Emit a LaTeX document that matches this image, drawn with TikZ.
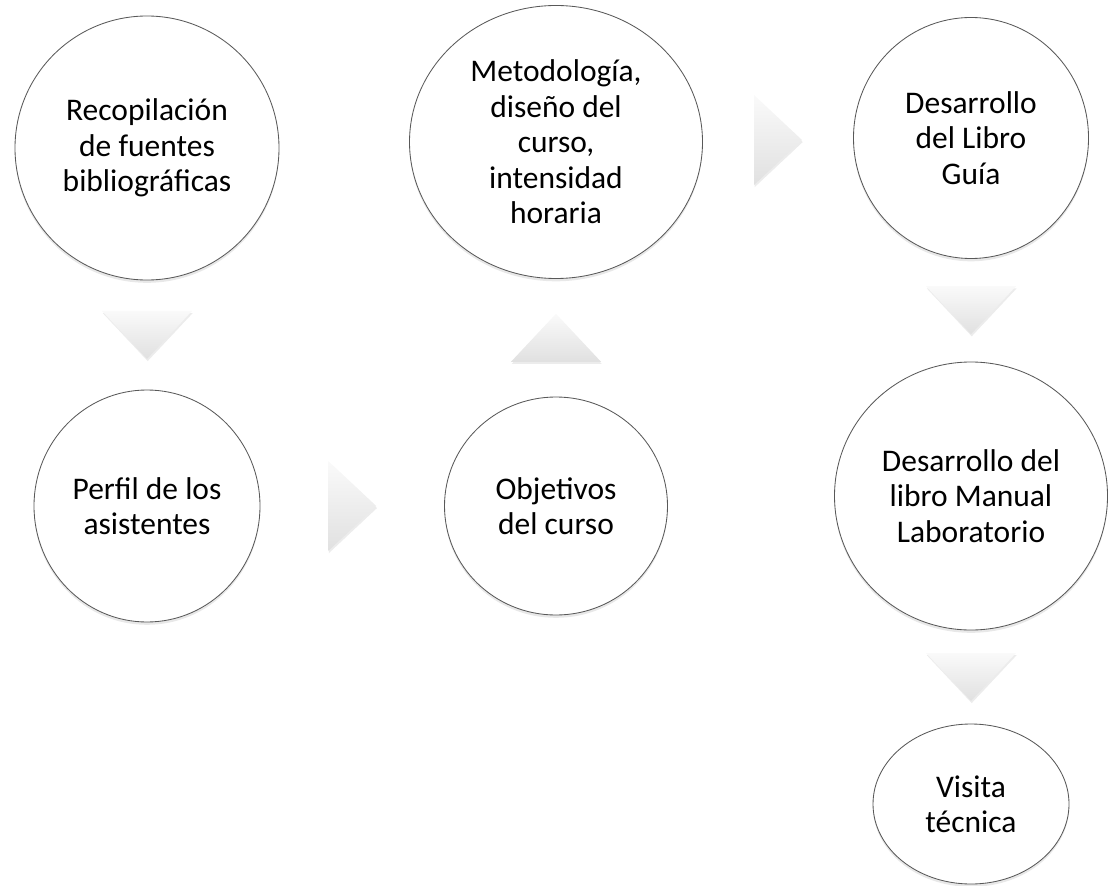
\documentclass[tikz,border=0pt]{standalone}
\usepackage{fontspec}
\setmainfont{Carlito}
\usepackage{tikz}
\usetikzlibrary{shapes.geometric,shadows,calc}

\begin{document}
\begin{tikzpicture}
	\tikzstyle{paso} = [ellipse, draw=black!65, line width=0.6pt, fill=white, inner sep=0pt, align=center, font=\fontsize{22.4}{25.2}\selectfont, drop shadow={opacity=0.18, shadow xshift=0pt, shadow yshift=-2pt}]
	\tikzstyle{flecha} = [top color=gray!4, bottom color=gray!24, drop shadow={opacity=0.15, shadow xshift=0.5pt, shadow yshift=-1.5pt}]

	\useasboundingbox (0,0) rectangle (27.75,-22.15);

	\node [paso, minimum width=6.6cm, minimum height=6.6cm] (1) at (3.675,-3.7) {Recopilación\\de fuentes\\bibliográficas};

	\node [paso, below of=1, yshift=-7.95cm, minimum width=5.65cm, minimum height=5.8cm] (2) {Perfil de los\\asistentes};
	\coordinate (m12) at ($(1.south)!0.5!(2.north)$);
	\path [flecha] ([shift={(-1.125,0.6)}]m12) -- ([shift={(1.125,0.6)}]m12) -- ([shift={(0,-0.6)}]m12) -- cycle;

	\node [paso, right of=2, xshift=9.225cm, minimum width=5.575cm, minimum height=5.45cm] (3) {Objetivos\\del curso};
	\coordinate (m23) at ($(2.east)!0.5!(3.west)$);
	\path [flecha] ([shift={(-0.6,1.125)}]m23) -- ([shift={(0.6,0)}]m23) -- ([shift={(-0.6,-1.125)}]m23) -- cycle;

	\node [paso, above of=3, yshift=8.1cm, minimum width=7.325cm, minimum height=6.825cm] (4) {Metodología,\\diseño del\\curso,\\intensidad\\horaria};
	\coordinate (m34) at ($(3.north)!0.5!(4.south)$);
	\path [flecha] ([shift={(-1.125,-0.6)}]m34) -- ([shift={(1.125,-0.6)}]m34) -- ([shift={(0,0.6)}]m34) -- cycle;

	\node [paso, right of=4, xshift=9.375cm, yshift=0.1cm, minimum width=5.875cm, minimum height=6.025cm] (5) {Desarrollo\\del Libro\\Guía};
	\coordinate (m45) at ($(4.east)!0.5!(5.west)$);
	\path [flecha] ([shift={(-0.6,1.125)}]m45) -- ([shift={(0.6,0)}]m45) -- ([shift={(-0.6,-1.125)}]m45) -- cycle;

	\node [paso, below of=5, yshift=-7.95cm, minimum width=6.825cm, minimum height=6.7cm] (6) {Desarrollo del\\libro Manual\\Laboratorio};
	\coordinate (m56) at ($(5.south)!0.5!(6.north)$);
	\path [flecha] ([shift={(-1.125,0.6)}]m56) -- ([shift={(1.125,0.6)}]m56) -- ([shift={(0,-0.6)}]m56) -- cycle;

	\node [paso, below of=6, yshift=-6.7cm, minimum width=4.9cm, minimum height=4cm] (7) {Visita\\técnica};
	\coordinate (m67) at ($(6.south)!0.5!(7.north)$);
	\path [flecha] ([shift={(-1.125,0.6)}]m67) -- ([shift={(1.125,0.6)}]m67) -- ([shift={(0,-0.6)}]m67) -- cycle;
\end{tikzpicture}
\end{document}
